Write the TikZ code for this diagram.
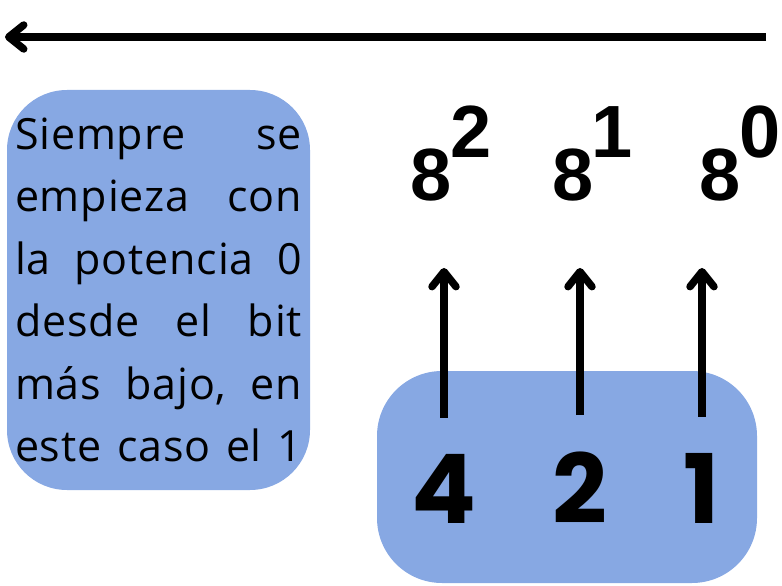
\documentclass[tikz,border=0pt]{standalone}
\usepackage{fontspec}
\setmainfont{Open Sans}[LetterSpace=2]
\newfontfamily\digitfont{Poppins}
\newfontfamily\powfont{Liberation Sans}
\usetikzlibrary{arrows.meta}
\definecolor{boxblue}{HTML}{87A8E3}
\newcommand\fullline[1]{\makebox[287pt][s]{#1}}
\begin{document}
\begin{tikzpicture}[
   x=1pt,y=-1pt,
   box/.style={fill=boxblue,rounded corners=60pt,inner sep=0pt},
   note/.style={box,text width=287pt,inner xsep=8pt,minimum height=400pt,
                font=\fontsize{43pt}{62.5pt}\selectfont},
   dig/.style={inner sep=0pt,anchor=base,font=\digitfont\bfseries\fontsize{96pt}{96pt}\selectfont},
   pow/.style={inner sep=0pt,anchor=base west,font=\powfont\bfseries\fontsize{74pt}{74pt}\selectfont},
   to/.style={-{Straight Barb[length=15pt,width=24pt,round]},line width=7.5pt},
   up/.style={to,shorten <=36pt,shorten >=67pt}]
\useasboundingbox (0,0) rectangle (782,586);
\coordinate (from) at (766,37);
\coordinate (dest) at (5,37);
\draw[to] (from) -- (dest);
\node[note] (text) at (158.5,290) {%
\fullline{Siempre\hfill se}\\
\fullline{empieza\hfill con}\\
\fullline{la\hfill potencia\hfill 0}\\
\fullline{desde\hfill el\hfill bit}\\
\fullline{más\hfill bajo,\hfill en}\\
\fullline{este\hfill caso\hfill el\hfill 1}};
\node[box,rounded corners=65pt,minimum width=380pt,minimum height=212pt] (bits) at (567,477) {};
\node[dig] (d4) at (444,523) {4};
\node[dig] (d2) at (580,523) {2};
\node[dig] (d1) at (702,523) {1};
\node[pow] (p2) at (410,200) {8\kern-1pt\raisebox{43pt}{2}};
\node[pow] (p1) at (552,200) {8\kern-2pt\raisebox{43pt}{1}};
\node[pow] (p0) at (699,200) {8\kern-1pt\raisebox{43pt}{0}};
\draw[up] (d4.north) -- (d4.north |- p2.south);
\draw[up] (d2.north) -- (d2.north |- p1.south);
\draw[up] (d1.north) -- (d1.north |- p0.south);
\end{tikzpicture}
\end{document}
